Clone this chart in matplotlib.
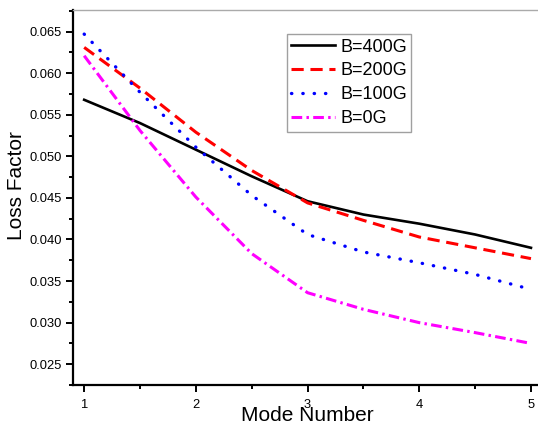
import numpy as np
import matplotlib.pyplot as plt
from matplotlib.ticker import MultipleLocator

plt.rcParams['font.family'] = ['Liberation Sans', 'DejaVu Sans']

mode = [1, 1.5, 2, 2.5, 3, 3.5, 4, 4.5, 5]
b400 = [0.0568, 0.0540, 0.0508, 0.0476, 0.0446, 0.0430, 0.0419, 0.0406, 0.0390]
b200 = [0.0631, 0.0582, 0.0529, 0.0483, 0.0444, 0.0423, 0.0403, 0.0390, 0.0377]
b100 = [0.0647, 0.0577, 0.0511, 0.0453, 0.0406, 0.0385, 0.0372, 0.0358, 0.0340]
b0 = [0.0621, 0.0531, 0.0451, 0.0383, 0.0336, 0.0316, 0.0300, 0.0288, 0.0275]
labels = ['B=400G', 'B=200G', 'B=100G', 'B=0G']

fig = plt.figure(figsize=(5.38, 4.25), dpi=100)
ax = fig.add_axes([0.1357, 0.0941, 0.872, 0.8824])

ax.plot(mode, b400, color='black', lw=1.9, label=labels[0])
ax.plot(mode, b200, color='red', lw=2.2, ls=(0, (4, 2.2)), label=labels[1])
ax.plot(mode, b100, color='blue', lw=2.4, ls=(0, (0.1, 3.3)),
        dash_capstyle='round', label=labels[2])
ax.plot(mode, b0, color='magenta', lw=2.2, ls=(0, (3.5, 1.4, 0.8, 1.4)),
        label=labels[3])

ax.set_xlim(0.9, 5.1)
ax.set_ylim(0.0225, 0.0676)
ax.xaxis.set_major_locator(MultipleLocator(1))
ax.xaxis.set_minor_locator(MultipleLocator(0.5))
ax.yaxis.set_major_locator(MultipleLocator(0.005))
ax.yaxis.set_minor_locator(MultipleLocator(0.0025))
ax.yaxis.set_major_formatter(plt.FormatStrFormatter('%.3f'))

ax.tick_params(which='both', direction='out', width=1.4, labelsize=9.3)
ax.tick_params(which='major', length=5)
ax.tick_params(which='minor', length=3)
ax.tick_params(axis='x', pad=5)
ax.tick_params(axis='y', pad=3)

ax.spines['left'].set_linewidth(1.6)
ax.spines['bottom'].set_linewidth(1.6)
ax.spines['top'].set_color('#aaaaaa')
ax.spines['top'].set_linewidth(1.0)
ax.spines['right'].set_visible(False)

ax.set_xlabel('Mode Number', fontsize=15)
ax.set_ylabel('Loss Factor', fontsize=15)
ax.xaxis.set_label_coords(0.499, -0.057)
ax.yaxis.set_label_coords(-0.100, 0.533)

leg = ax.legend(loc='upper left', bbox_to_anchor=(0.4557, 0.936), fontsize=13,
                frameon=True, fancybox=False, edgecolor='#888888',
                borderpad=0.25, labelspacing=0.38, handlelength=2.4,
                handletextpad=0.3, borderaxespad=0)
leg.get_frame().set_linewidth(1.0)

fig.savefig('out.png', dpi=100)
